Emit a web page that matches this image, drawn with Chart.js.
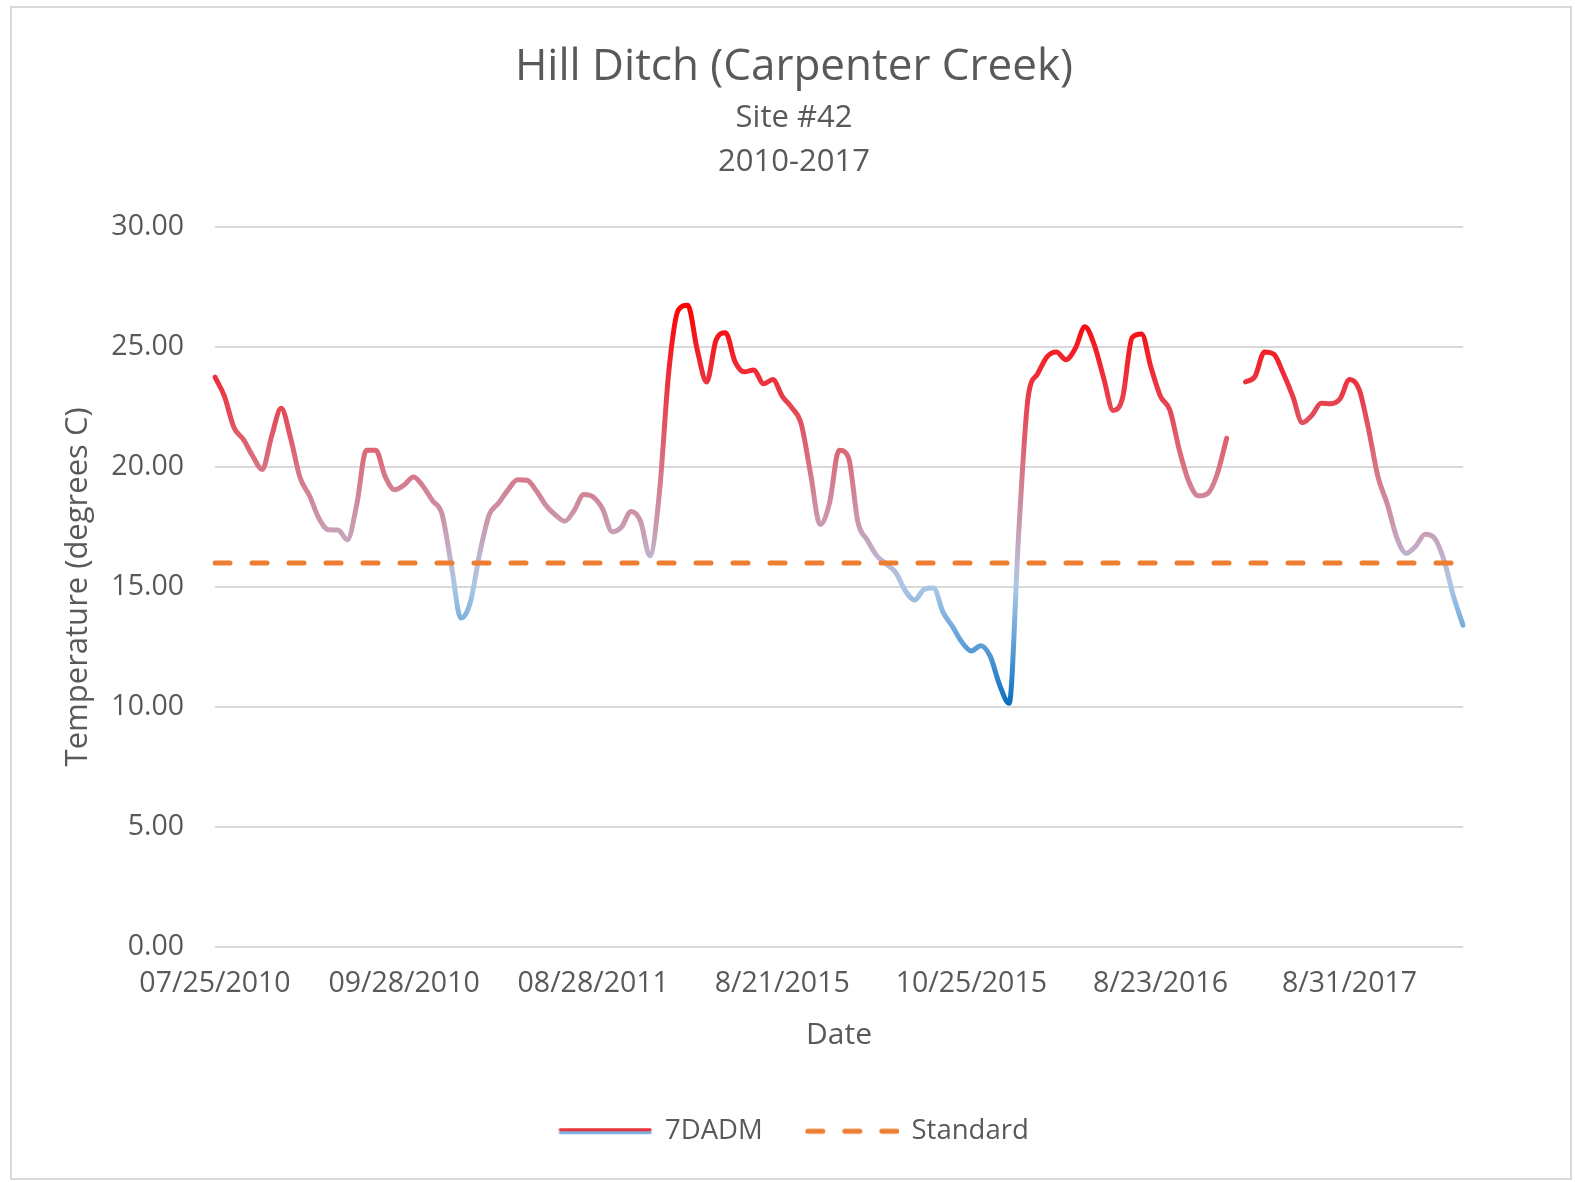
<!DOCTYPE html>
<html>
<head>
<meta charset="utf-8">
<title>Hill Ditch (Carpenter Creek)</title>
<script src="https://cdn.jsdelivr.net/npm/chart.js@4/dist/chart.umd.min.js"></script>
<style>
 html,body{margin:0;background:#fff}
 canvas{display:block}
</style>
</head>
<body>
<canvas id="chart" width="1575" height="1182"></canvas>
<script>
/* ========= DATA ========= */

const tickLabels=["07/25/2010","09/28/2010","08/28/2011","8/21/2015","10/25/2015","8/23/2016","8/31/2017"]
const tickEvery=20

// 7-day average daily max, degrees C (null = missing reading)
const temps=[
 23.75,22.95,21.65,21.15,20.45,19.9,21.3,22.45,21.2,19.55,
 18.8,17.85,17.38,17.37,16.97,18.45,20.7,20.7,19.6,19.05,
 19.25,19.58,19.2,18.6,18.05,15.9,13.7,14.35,16.4,18.0,
 18.5,19.05,19.47,19.45,19.0,18.4,18.0,17.74,18.2,18.85,
 18.75,18.25,17.3,17.5,18.15,17.75,16.3,18.9,24.0,26.55,
 26.75,24.9,23.55,25.3,25.6,24.4,23.97,24.05,23.47,23.65,
 22.95,22.48,21.8,19.7,17.6,18.5,20.7,20.4,17.7,16.95,
 16.3,15.95,15.6,14.85,14.45,14.9,14.95,13.95,13.35,12.7,
 12.33,12.55,12.1,10.9,10.15,17.2,22.9,23.88,24.6,24.8,
 24.48,24.95,25.85,25.1,23.7,22.36,22.9,25.4,25.55,24.15,
 22.95,22.37,20.7,19.4,18.8,18.9,19.7,21.2,null,23.55,
 23.78,24.8,24.7,23.9,22.95,21.85,22.15,22.66,22.64,22.85,
 23.65,23.25,21.6,19.6,18.45,17.05,16.4,16.7,17.2,17.03,
 16.1,14.6,13.4
]
const standard=16

const dates=temps.map((_,i)=>i%tickEvery===0?(tickLabels[i/tickEvery]||""):"")
const standardLine=temps.map(()=>standard)

/* ========= STYLE ========= */

const F="'Open Sans', sans-serif"
const TXT="#595959"
const HOT=26.8,COLD=10.1
const ramp=[[26.8,"#ff0000"],[24,"#ee2b36"],[20,"#d87282"],[17,"#c6a4bb"],[16,"#bcb9d3"],[15,"#a9c7e6"],[12.5,"#5b9ed6"],[10.1,"#0a6fc0"]]

function heat(c){
 const {chart}=c
 if(!chart.chartArea) return "#ff0000"
 const y=chart.scales.y
 const g=chart.ctx.createLinearGradient(0,y.getPixelForValue(HOT),0,y.getPixelForValue(COLD))
 ramp.forEach(([v,col])=>g.addColorStop((HOT-v)/(HOT-COLD),col))
 return g
}

/* ========= LEGEND ICONS ========= */

function icon(draw){
 const c=document.createElement("canvas")
 c.width=94;c.height=8
 draw(c.getContext("2d"))
 return c
}
const icons=[
 icon(g=>{
  g.lineCap="round";g.lineWidth=3
  g.strokeStyle="#e8323e";g.beginPath();g.moveTo(2,2.5);g.lineTo(92,2.5);g.stroke()
  g.strokeStyle="#7fb2e0";g.beginPath();g.moveTo(2,5.5);g.lineTo(92,5.5);g.stroke()
 }),
 icon(g=>{
  g.lineCap="round";g.lineWidth=5;g.strokeStyle="#ed7d31"
  g.setLineDash([15,22]);g.beginPath();g.moveTo(3,4);g.lineTo(93,4);g.stroke()
 })
]

/* ========= FRAME ========= */

const frame={
 id:"frame",
 beforeDraw(c){
  const g=c.ctx
  g.save()
  g.fillStyle="#fff";g.fillRect(0,0,c.width,c.height)
  g.strokeStyle="#d9d9d9";g.lineWidth=2
  g.strokeRect(11,7,1560,1172)
  g.restore()
 }
}

/* ========= CHART ========= */

new Chart(document.getElementById("chart"),{
 type:"line",
 data:{labels:dates,datasets:[
  {label:"7DADM",data:temps,borderColor:heat,borderWidth:5,pointRadius:0,
   cubicInterpolationMode:"monotone",borderCapStyle:"round",borderJoinStyle:"round",order:1},
  {label:"Standard",data:standardLine,borderColor:"#ed7d31",borderWidth:5,borderDash:[15,22],
   borderCapStyle:"round",pointRadius:0,order:0}
 ]},
 options:{
  responsive:false,animation:false,
  layout:{padding:{top:41,left:20,right:7,bottom:27}},
  plugins:{
   title:{display:true,text:"Hill Ditch (Carpenter Creek)",color:TXT,
    font:{family:F,size:44,weight:"normal",lineHeight:1.2},padding:{top:0,bottom:2}},
   subtitle:{display:true,text:["Site #42","2010-2017"],color:TXT,
    font:{family:F,size:31,lineHeight:44/31},padding:{top:0,bottom:43.5}},
   legend:{position:"bottom",labels:{usePointStyle:true,pointStyleWidth:92,padding:43,color:TXT,
    font:{family:F,size:27.5},
    generateLabels:c=>Chart.defaults.plugins.legend.labels.generateLabels(c)
     .sort((a,b)=>a.datasetIndex-b.datasetIndex)
     .map(it=>({...it,pointStyle:icons[it.datasetIndex]}))}},
   tooltip:{enabled:false}
  },
  scales:{
   x:{grid:{display:false},border:{display:false},
    ticks:{autoSkip:false,maxRotation:0,padding:12,color:TXT,font:{family:F,size:28.5}},
    title:{display:true,text:"Date",color:TXT,font:{family:F,size:30},padding:{top:0,bottom:21}},
    afterFit:s=>{s.height=128}},
   y:{min:0,max:30,
    ticks:{stepSize:5,padding:31,color:TXT,font:{family:F,size:28.5},callback:v=>v.toFixed(2)},
    grid:{color:"#d9d9d9",lineWidth:2,drawTicks:false},border:{display:false},
    title:{display:true,text:"Temperature (degrees C)",color:TXT,font:{family:F,size:31},padding:{top:40,bottom:0}},
    afterFit:s=>{s.width=195}},
   pad:{position:"right",grid:{display:false},border:{display:false},ticks:{display:false},
    afterFit:s=>{s.width=105}}
  }
 },
 plugins:[frame]
})
</script>
</body>
</html>
